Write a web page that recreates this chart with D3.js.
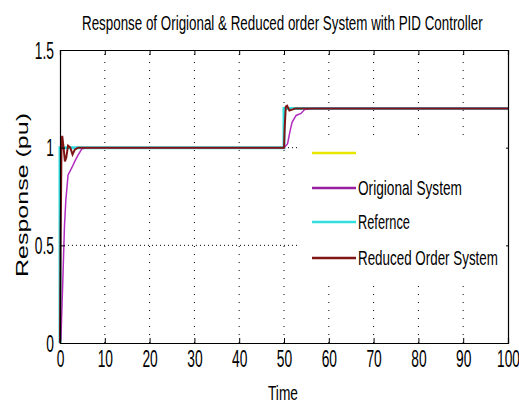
<!DOCTYPE html>
<html>
<head>
<meta charset="utf-8">
<script src="https://cdn.jsdelivr.net/npm/d3@7"></script>
<style>
  body { margin: 0; background: #fff; }
  text { font-family: "Liberation Sans", Arial, sans-serif; fill: #000; }
</style>
</head>
<body>
<svg id="chart" width="519" height="408"></svg>
<script>
// values
var xTicks = [0, 10, 20, 30, 40, 50, 60, 70, 80, 90, 100];
var yTicks = [0, 0.5, 1, 1.5];

var refT  = [0, 0, 50, 50, 100];
var refV  = [0, 1, 1, 1.2, 1.2];

var origT = [0, 0.2, 0.6, 1.0, 1.3, 1.8, 2.7, 3.3, 4.0, 4.9, 6, 50, 50.8, 51.3, 51.8, 52.7, 53.8, 54.6, 56, 100];
var origV = [0, 0.02, 0.3, 0.6, 0.73, 0.86, 0.9, 0.93, 0.96, 0.995, 1.0, 1.0, 1.02, 1.08, 1.13, 1.165, 1.175, 1.195, 1.2, 1.2];

var redT  = [0, 0.15, 0.35, 0.5, 0.8, 1.1, 1.4, 1.8, 2.3, 2.8, 3.3, 4, 50, 50.15, 50.4, 50.7, 51.2, 51.8, 52.5, 100];
var redV  = [0, 0.55, 1.04, 1.06, 1.0, 0.93, 0.95, 1.01, 1.0, 0.965, 0.99, 1.0, 1.0, 1.1, 1.21, 1.215, 1.19, 1.195, 1.2, 1.2];

var legendNames  = ['', 'Origional System', 'Refernce', 'Reduced Order System'];
var legendColors = ['#e6e600', '#9a1f9e', '#33dede', '#801515'];

var svg = d3.select('#chart');
var padL = 60, padR = 508, padT = 50, padB = 343;

var x = d3.scaleLinear().domain([0, 100]).range([padL, padR]);
var y = d3.scaleLinear().domain([0, 1.5]).range([padB, padT]);

function zip(t, v) {
  return t.map(function (d, i) { return [d, v[i]]; });
}

// squeeze a text horizontally so it spans w pixels (the picture uses a narrow face)
function fit(sel, w) {
  sel.each(function () {
    var n = this.getComputedTextLength();
    var ax = +d3.select(this).attr('x') || 0;
    var ay = +d3.select(this).attr('y') || 0;
    var k = w / n;
    d3.select(this).attr('x', 0).attr('y', 0)
      .attr('transform', 'translate(' + ax + ',' + ay + ') scale(' + k + ',1)');
  });
}

// grid
svg.append('g').selectAll('line').data(xTicks.slice(1, -1)).enter().append('line')
  .attr('x1', function (d) { return x(d); }).attr('x2', function (d) { return x(d); })
  .attr('y1', padB).attr('y2', padT)
  .attr('stroke', '#000').attr('stroke-width', 1).attr('stroke-dasharray', '1,7');
svg.append('g').selectAll('line').data(yTicks.slice(1, -1)).enter().append('line')
  .attr('x1', padL).attr('x2', padR)
  .attr('y1', function (d) { return y(d); }).attr('y2', function (d) { return y(d); })
  .attr('stroke', '#000').attr('stroke-width', 1).attr('stroke-dasharray', '1,3');

// response lines
var line = d3.line().x(function (d) { return x(d[0]); }).y(function (d) { return y(d[1]); });
svg.append('path').datum(zip(refT, refV)).attr('d', line)
  .attr('fill', 'none').attr('stroke', legendColors[2]).attr('stroke-width', 3);
svg.append('path').datum(zip(origT, origV)).attr('d', line)
  .attr('fill', 'none').attr('stroke', '#b22cc0').attr('stroke-width', 1.5);
svg.append('path').datum(zip(redT, redV)).attr('d', line)
  .attr('fill', 'none').attr('stroke', legendColors[3]).attr('stroke-width', 2);

// axes (ticks point inwards, box all round)
var gBottom = svg.append('g').attr('transform', 'translate(0,' + padB + ')')
  .call(d3.axisBottom(x).tickValues(xTicks).tickSize(-5).tickFormat(d3.format('d')));
gBottom.selectAll('text').attr('y', 24).attr('dy', 0)
  .style('font-size', '23px').attr('transform', 'scale(0.6,1)');

svg.append('g').attr('transform', 'translate(0,' + padT + ')')
  .call(d3.axisTop(x).tickValues(xTicks).tickSize(-5).tickFormat(''));

var gLeft = svg.append('g').attr('transform', 'translate(' + padL + ',0)')
  .call(d3.axisLeft(y).tickValues(yTicks).tickSize(-5).tickFormat(function (d) { return d; }));
gLeft.selectAll('text').attr('x', -10).attr('dy', '0.36em')
  .style('font-size', '23px').attr('transform', 'scale(0.6,1)');

svg.append('g').attr('transform', 'translate(' + padR + ',0)')
  .call(d3.axisRight(y).tickValues(yTicks).tickSize(-5).tickFormat(''));

svg.selectAll('.domain').attr('stroke', '#000').attr('stroke-width', 1.2);
svg.selectAll('.tick line').attr('stroke', '#000');

// legend
var lg = svg.append('g');
lg.append('rect').attr('x', 300).attr('y', 140).attr('width', 206).attr('height', 143).attr('fill', '#fff');
var rowY = [153, 188, 222, 258];
var labelW = [0, 104, 52, 140];
legendNames.forEach(function (name, i) {
  lg.append('line').attr('x1', 312).attr('x2', 356).attr('y1', rowY[i]).attr('y2', rowY[i])
    .attr('stroke', legendColors[i]).attr('stroke-width', 2.5);
  if (name) {
    lg.append('text').attr('x', 358).attr('y', rowY[i] + 7).text(name)
      .style('font-size', '20px')
      .call(fit, labelW[i]);
  }
});

// titles
svg.append('text').attr('x', 82).attr('y', 30)
  .style('font-size', '21px')
  .text('Response of Origional & Reduced order System with PID Controller')
  .call(fit, 401);

svg.append('text').attr('x', 268).attr('y', 400)
  .style('font-size', '21px')
  .text('Time')
  .call(fit, 30);

svg.append('text').attr('transform', 'translate(28,195) rotate(-90)').attr('text-anchor', 'middle')
  .style('font-size', '16px').attr('textLength', 164).attr('lengthAdjust', 'spacingAndGlyphs')
  .text('Response (pu)');
</script>
</body>
</html>
